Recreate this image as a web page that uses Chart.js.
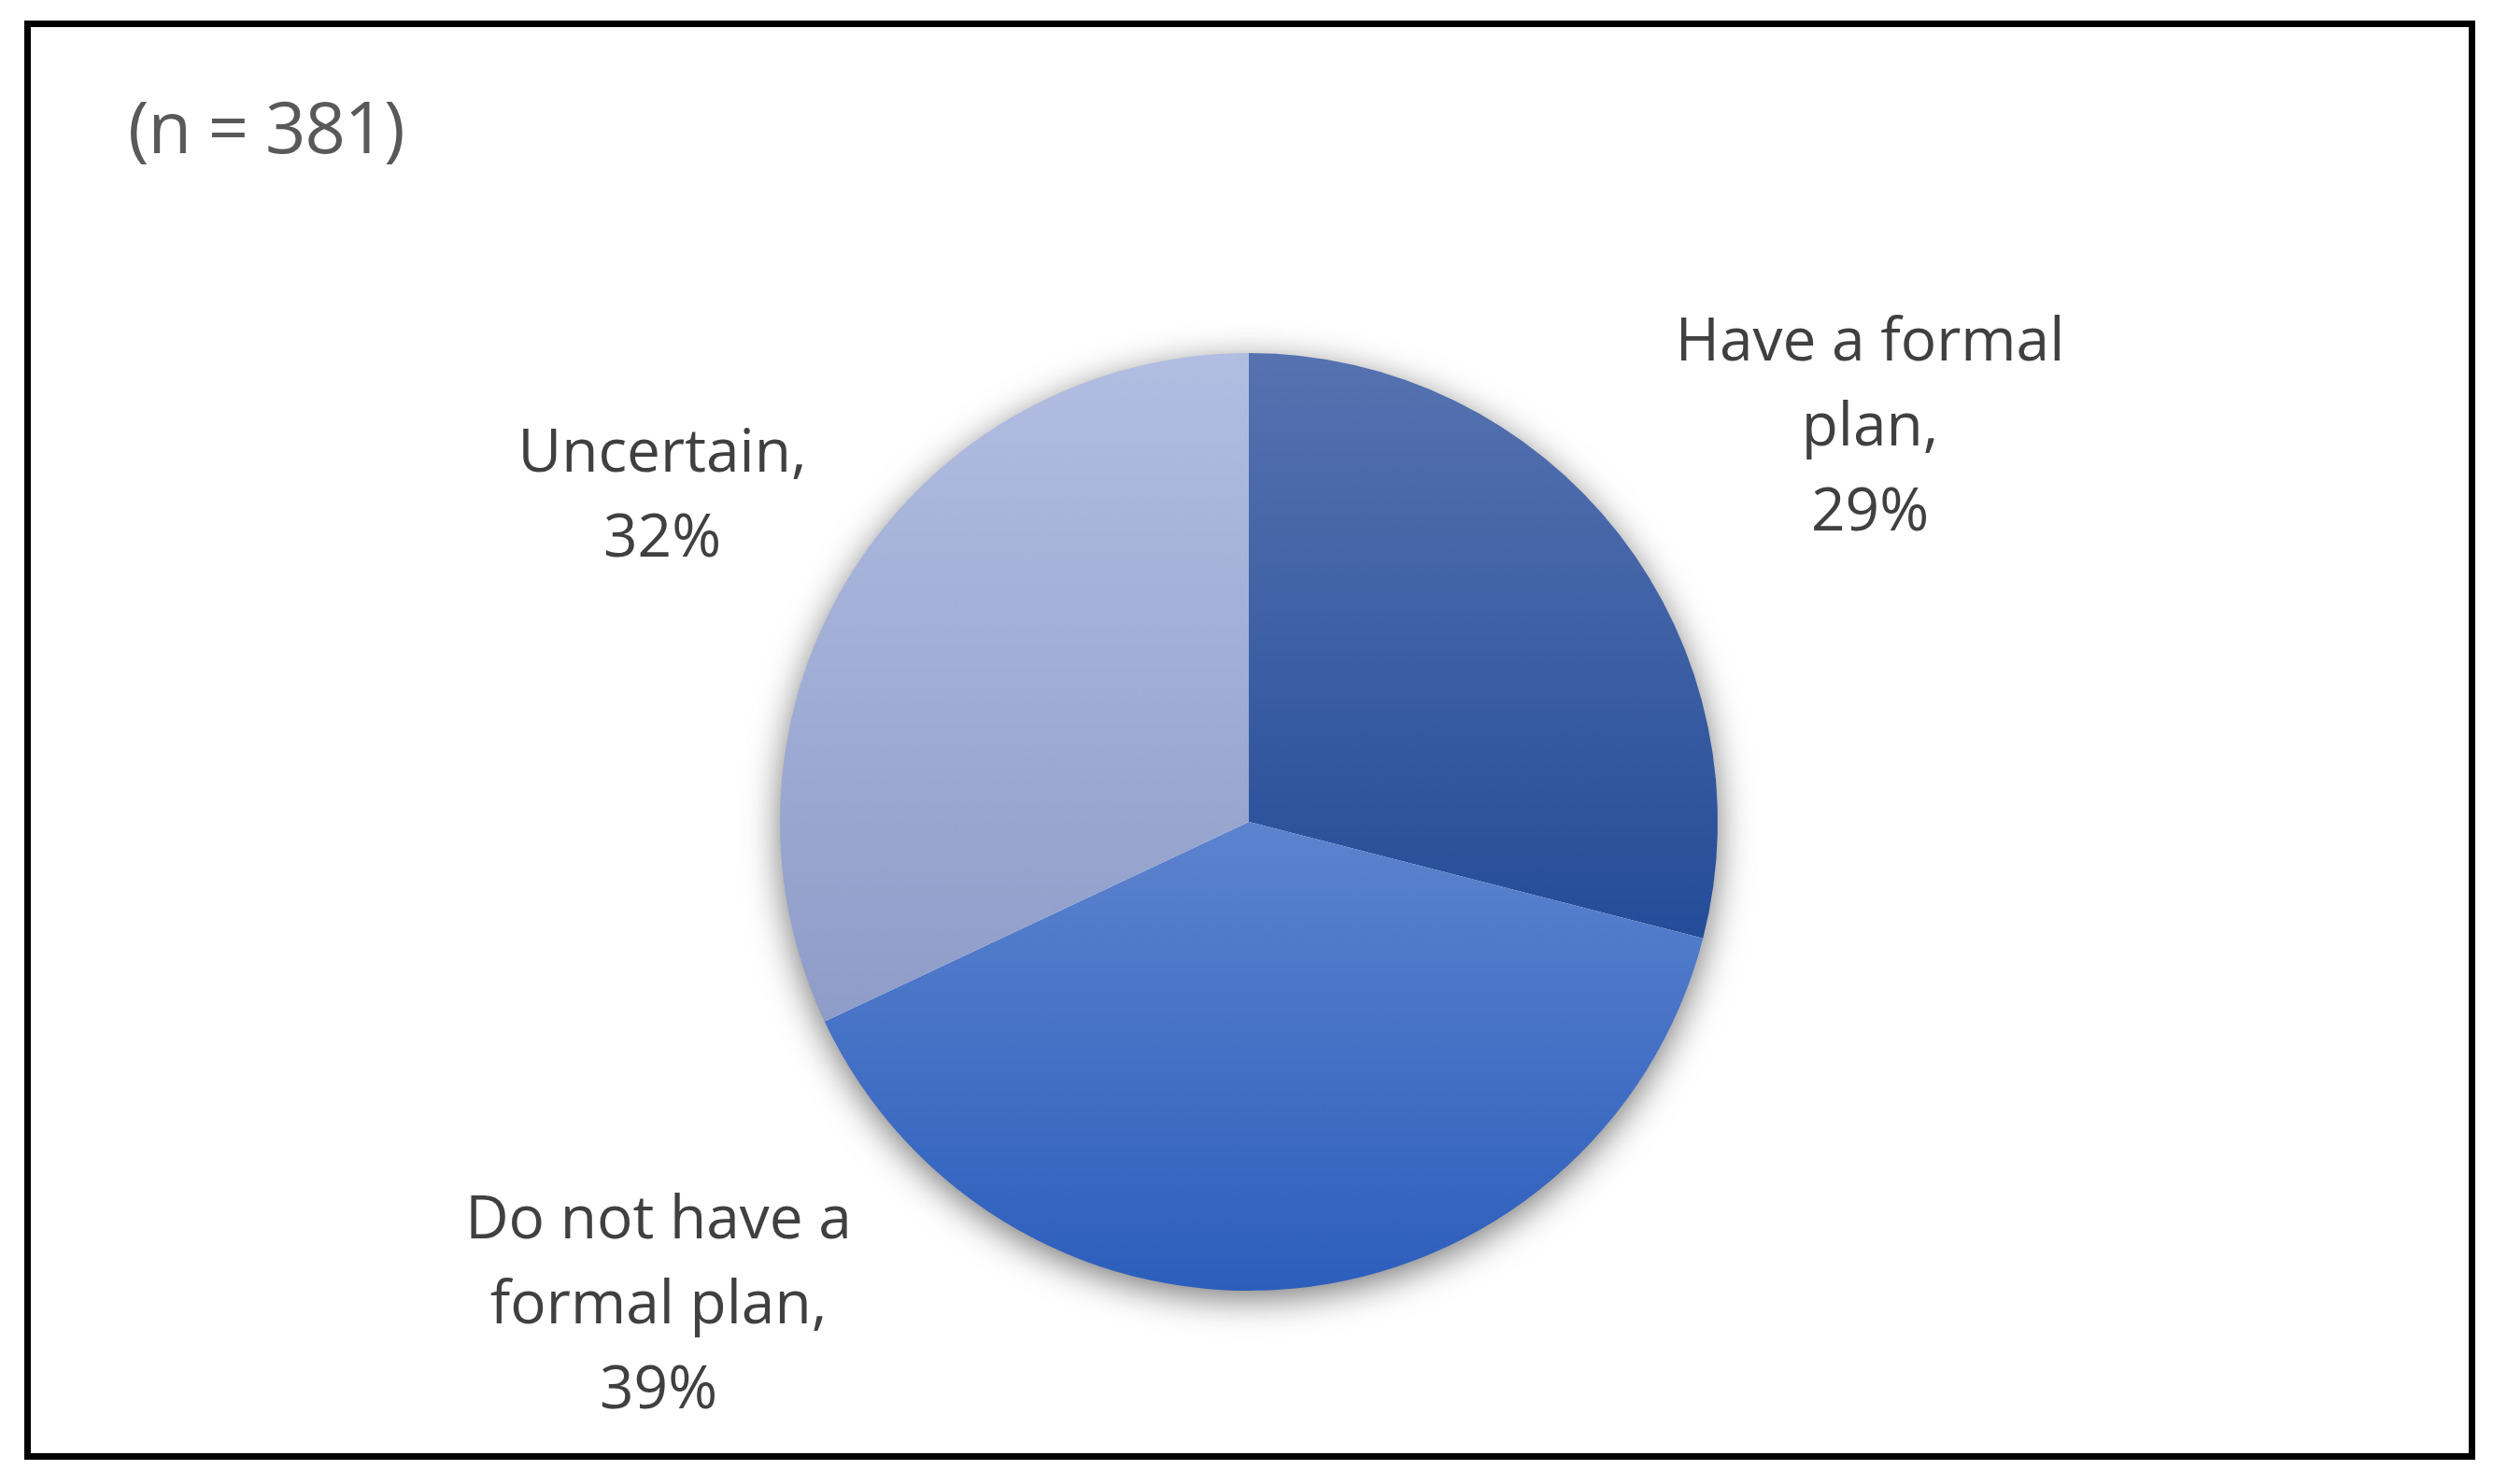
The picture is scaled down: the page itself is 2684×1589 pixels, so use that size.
<!DOCTYPE html>
<html>
<head>
<meta charset="utf-8">
<script src="https://cdn.jsdelivr.net/npm/chart.js@4.4.1/dist/chart.umd.min.js"></script>
<style>
  html, body { margin: 0; padding: 0; background: #ffffff; }
  #wrap { position: relative; width: 2684px; height: 1589px; }
  #frame { position: absolute; left: 26px; top: 22px; width: 2624px; height: 1541px;
           box-sizing: border-box; border: 7px solid #000; pointer-events: none; }
  canvas { position: absolute; left: 0; top: 0; }
</style>
</head>
<body>
<div id="wrap">
  <canvas id="c" width="2684" height="1589"></canvas>
  <div id="frame"></div>
</div>
<script>
// ---- data ----
const categories = ['Have a formal plan', 'Do not have a formal plan', 'Uncertain'];
const values = [29, 39, 32];
const labelLines = [['Have a formal', 'plan,'], ['Do not have a', 'formal plan,'], ['Uncertain,']];
const sampleNote = '(n = 381)';

// ---- styles ----
const gradTop = ['#5672B0', '#5C83CE', '#B1BDE1'];
const gradBottom = ['#244C98', '#2C5EBC', '#8E9CC8'];
// label anchors relative to pie centre (px): [dx, first baseline dy]
const labelAnchor = [[665, -494], [-632, 446], [-628, -375]];
const LABEL_FONT = '64px "Open Sans"';
const LINE_H = 91;

function sliceGradient(ctx) {
  const chart = ctx.chart;
  const ca = chart.chartArea;
  if (!ca) return gradTop[ctx.dataIndex];
  const i = ctx.dataIndex;
  const cx = (ca.left + ca.right) / 2, cy = (ca.top + ca.bottom) / 2;
  const r = Math.min(ca.right - ca.left, ca.bottom - ca.top) / 2;
  const total = values.reduce((a, b) => a + b, 0);
  let before = 0;
  for (let k = 0; k < i; k++) before += values[k];
  const a0 = -Math.PI / 2 + 2 * Math.PI * before / total;
  const a1 = a0 + 2 * Math.PI * values[i] / total;
  const ys = [cy, cy + r * Math.sin(a0), cy + r * Math.sin(a1)];
  for (const s of [-Math.PI / 2, Math.PI / 2, 3 * Math.PI / 2, 5 * Math.PI / 2]) {
    if (s > a0 && s < a1) ys.push(cy + r * Math.sin(s));
  }
  const y0 = Math.min(...ys), y1 = Math.max(...ys);
  const g = chart.ctx.createLinearGradient(0, y0, 0, y1);
  g.addColorStop(0, gradTop[i]);
  g.addColorStop(1, gradBottom[i]);
  return g;
}

const decor = {
  id: 'decor',
  beforeDatasetsDraw(chart) {
    const el = chart.getDatasetMeta(0).data[0];
    if (!el) return;
    const ctx = chart.ctx;
    ctx.save();
    ctx.shadowColor = 'rgba(0,0,0,0.55)';
    ctx.shadowBlur = 38;
    ctx.shadowOffsetX = 0;
    ctx.shadowOffsetY = 9;
    ctx.fillStyle = '#ffffff';
    ctx.beginPath();
    ctx.arc(el.x, el.y, el.outerRadius - 1, 0, Math.PI * 2);
    ctx.fill();
    ctx.restore();
  },
  afterDatasetsDraw(chart) {
    const el = chart.getDatasetMeta(0).data[0];
    if (!el) return;
    const ctx = chart.ctx;
    ctx.save();
    ctx.fillStyle = '#404040';
    ctx.font = LABEL_FONT;
    ctx.textAlign = 'center';
    ctx.textBaseline = 'alphabetic';
    values.forEach((v, i) => {
      const lines = labelLines[i].concat([v + '%']);
      const [dx, dy] = labelAnchor[i];
      lines.forEach((t, j) => ctx.fillText(t, el.x + dx, el.y + dy + j * LINE_H));
    });
    ctx.fillStyle = '#595959';
    ctx.font = '76px "Open Sans"';
    ctx.textAlign = 'left';
    try { ctx.letterSpacing = '-1px'; } catch (e) {}
    ctx.fillText(sampleNote, 137, 164);
    ctx.restore();
  }
};

new Chart(document.getElementById('c'), {
  type: 'pie',
  data: {
    labels: categories,
    datasets: [{
      data: values,
      backgroundColor: sliceGradient,
      borderWidth: 0,
      hoverOffset: 0
    }]
  },
  options: {
    responsive: false,
    animation: false,
    events: [],
    layout: { padding: { left: 835, right: 845, top: 378, bottom: 207 } },
    plugins: { legend: { display: false }, tooltip: { enabled: false }, title: { display: false } }
  },
  plugins: [decor]
});
</script>
</body>
</html>
